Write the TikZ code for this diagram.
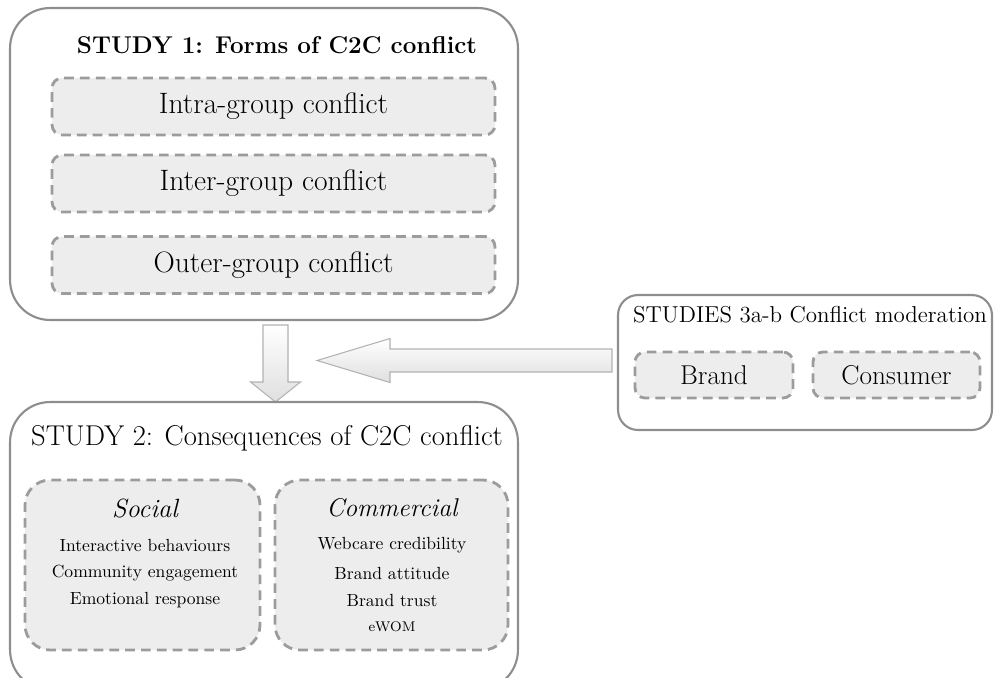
\documentclass[tikz,border=0pt]{standalone}
\usepackage{tikz}
\pgfdeclarelayer{edgelayer}
\pgfdeclarelayer{nodelayer}
\pgfsetlayers{edgelayer,nodelayer,main}
\definecolor{boxline}{HTML}{8E8E8E}
\definecolor{dashline}{HTML}{9C9C9C}
\definecolor{dashfill}{HTML}{EDEDED}
\tikzstyle{study}=[draw=boxline,line width=1.2pt,fill=white,rounded corners=0.8cm]
\tikzstyle{form}=[draw=dashline,line width=1.6pt,dash pattern=on 5.5pt off 3.5pt,fill=dashfill,rounded corners=0.2cm]
\tikzstyle{blockarrow}=[draw=gray!60,line width=0.6pt,top color=white,bottom color=gray!25]
\tikzstyle{heading}=[font=\fontsize{13.8}{16}\selectfont\bfseries]
\tikzstyle{item}=[font=\fontsize{16.8}{19}\selectfont]
\tikzstyle{subitem}=[font=\fontsize{10}{12}\selectfont]

\begin{document}
\begin{tikzpicture}[x=0.02cm,y=-0.02cm]
	\useasboundingbox (0,0) rectangle (994,677);
	\begin{pgfonlayer}{nodelayer}
		% study 1
		\node [style=study, minimum width=10.16cm, minimum height=6.24cm] (0) at (264,164) {};
		\node [style=heading] (1) at (277,45) {STUDY 1: Forms of C2C conflict};
		\node [style=form, minimum width=8.86cm, minimum height=1.14cm] (2) at (273.5,106.5) {};
		\node [style=item] at (2) {Intra-group conflict};
		\node [style=form, minimum width=8.86cm, minimum height=1.14cm] (3) at (273.5,183.5) {};
		\node [style=item] at (3) {Inter-group conflict};
		\node [style=form, minimum width=8.86cm, minimum height=1.14cm] (4) at (273.5,265) {};
		\node [style=item] at (4) {Outer-group conflict};
		% study 2
		\node [style=study, minimum width=10.16cm, minimum height=5.76cm] (5) at (264,546) {};
		\node [style=item, font=\fontsize{16.3}{18}\selectfont] (6) at (267,438) {STUDY 2: Consequences of C2C conflict};
		\node [style=form, rounded corners=0.5cm, minimum width=4.7cm, minimum height=3.4cm] (7) at (142.5,565) {};
		\node [style=form, rounded corners=0.5cm, minimum width=4.66cm, minimum height=3.4cm] (8) at (391.5,565) {};
		\node [style=item, font=\fontsize{15}{17}\selectfont\itshape] (9) at (145,508) {Social};
		\node [style=subitem] (10) at (145,545) {Interactive behaviours};
		\node [style=subitem] (11) at (145,573) {Community engagement};
		\node [style=subitem] (12) at (145,600) {Emotional response};
		\node [style=item, font=\fontsize{14.6}{17}\selectfont\itshape] (13) at (392,508) {Commercial};
		\node [style=subitem] (14) at (392,545) {Webcare credibility};
		\node [style=subitem] (15) at (392,573) {Brand attitude};
		\node [style=subitem] (16) at (392,600) {Brand trust};
		\node [style=subitem, font=\fontsize{8}{10}\selectfont] (17) at (392,627) {eWOM};
		% studies 3a-b
		\node [style=study, rounded corners=0.4cm, minimum width=7.48cm, minimum height=2.7cm] (18) at (805,362.5) {};
		\node [style=item, font=\fontsize{13.1}{15}\selectfont] (19) at (810,315) {STUDIES 3a-b Conflict moderation};
		\node [style=form, minimum width=3.16cm, minimum height=0.92cm] (20) at (714,375) {};
		\node [style=item, font=\fontsize{15.5}{17}\selectfont] at (20) {Brand};
		\node [style=form, minimum width=3.34cm, minimum height=0.92cm] (21) at (896.5,375) {};
		\node [style=item, font=\fontsize{15.5}{17}\selectfont] at (21) {Consumer};
	\end{pgfonlayer}
	\begin{pgfonlayer}{edgelayer}
		\coordinate (22) at (275.5,325);
		\coordinate (23) at (612,360.5);
		\path [style=blockarrow] (22) ++(-12.5,0) -- ++(0,57) -- ++(-12.5,0) -- ++(25,20) -- ++(25,-20) -- ++(-12.5,0) -- ++(0,-57) -- cycle;
		\path [style=blockarrow] (23) ++(0,-11.5) -- ++(-222,0) -- ++(0,-10.5) -- ++(-73,22) -- ++(73,22) -- ++(0,-10.5) -- ++(222,0) -- cycle;
	\end{pgfonlayer}
\end{tikzpicture}
\end{document}
